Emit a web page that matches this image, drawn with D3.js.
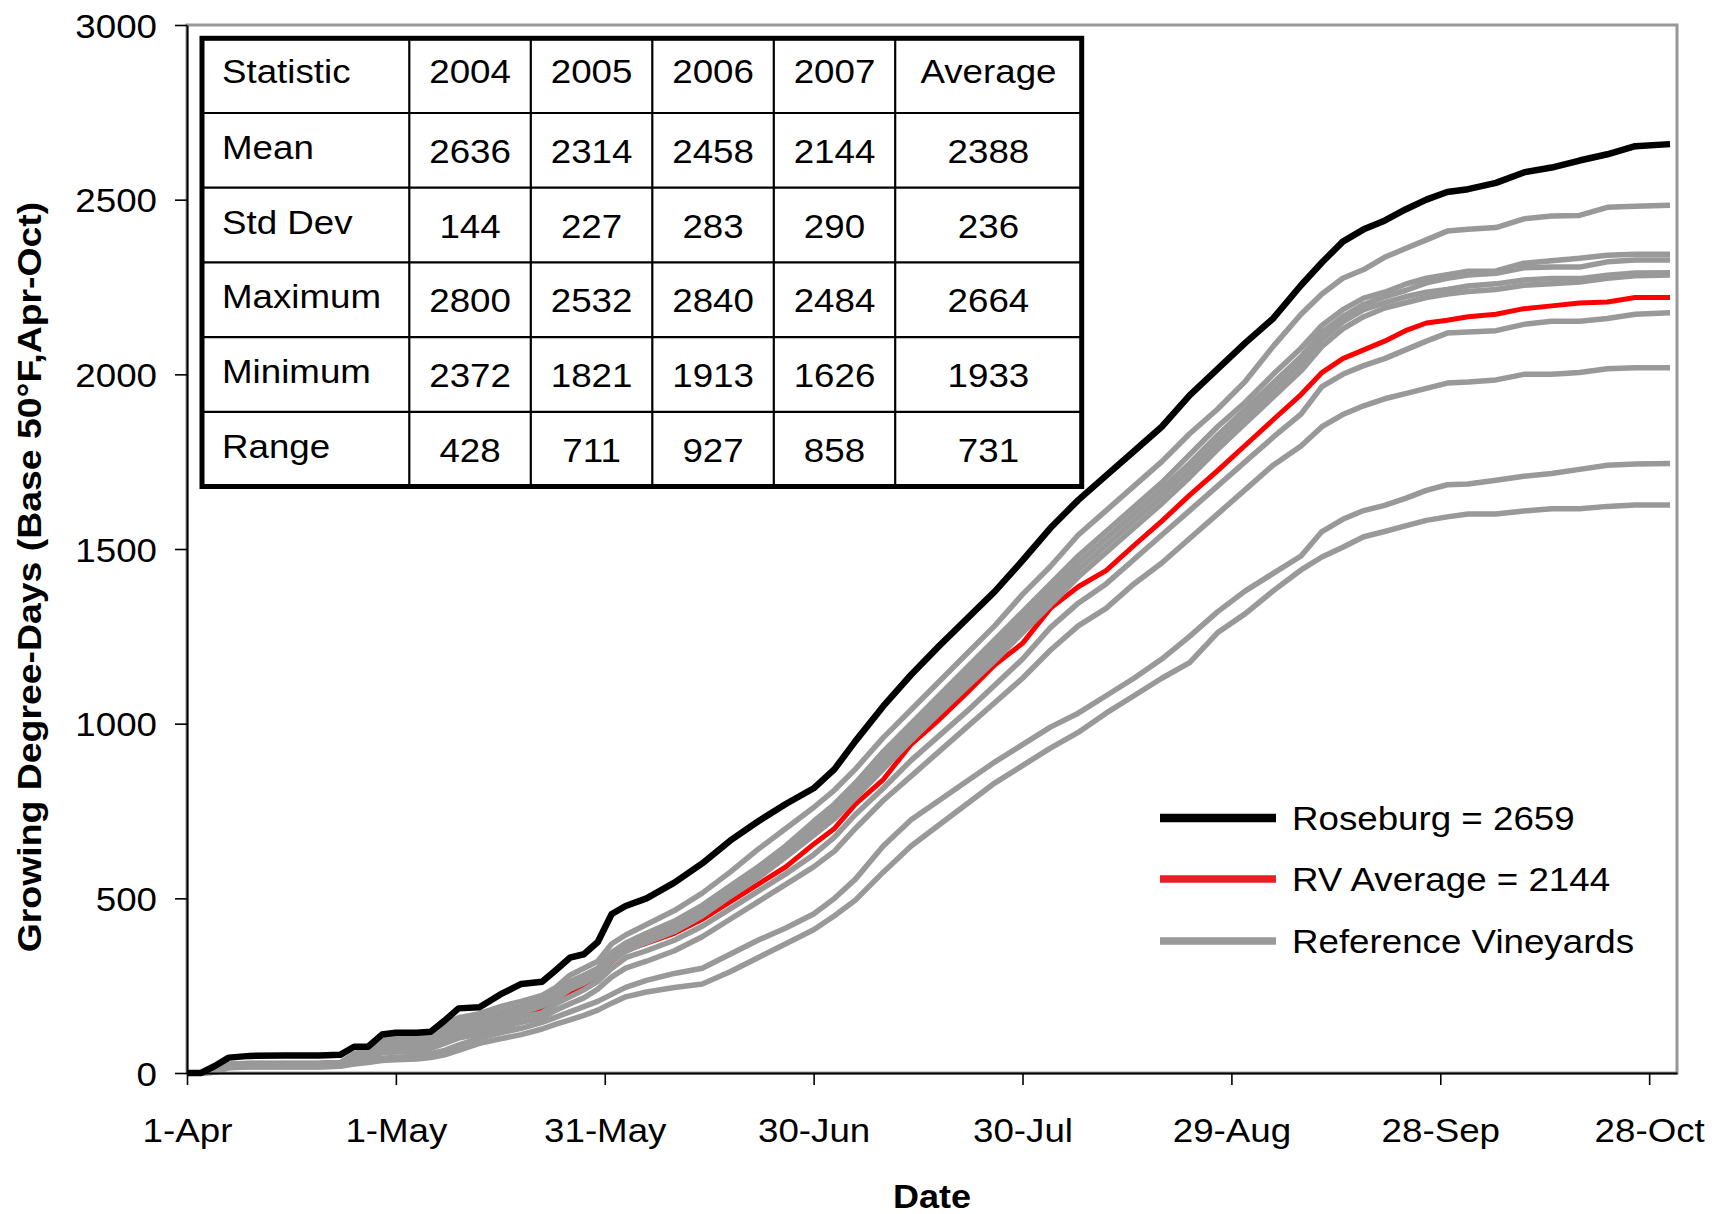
<!DOCTYPE html>
<html>
<head>
<meta charset="utf-8">
<script src="https://cdn.jsdelivr.net/npm/d3@7"></script>
<style>
  html, body { margin: 0; padding: 0; background: #fff; }
  svg { display: block; }
  text { font-family: "Liberation Sans", Arial, Helvetica, sans-serif; fill: #000; }
</style>
</head>
<body>
<svg id="chart" width="1716" height="1214"></svg>
<script>
// ---- Cumulative growing degree-days (base 50°F), 1 April – 31 October ----
// days after 1 April at which every series is sampled
const seasonDay = [0,2,4,6,9,14,19,22,24,26,28,30,33,35,37,39,42,45,48,51,53,55,57,59,61,63,66,70,74,78,82,86,90,93,96,100,104,108,112,116,120,124,128,132,136,140,144,148,152,156,160,163,166,169,172,175,178,181,184,188,192,196,200,204,208,213];

const roseburg = [0,0,20,44,49,50,50,52,75,75,110,115,115,118,150,185,188,225,255,261,295,330,340,375,455,478,500,545,600,665,720,770,815,870,950,1050,1140,1222,1300,1378,1467,1560,1640,1710,1780,1850,1940,2015,2090,2160,2255,2320,2380,2415,2440,2472,2500,2522,2530,2548,2578,2592,2612,2630,2653,2659];

const rvAverage = [0,0,5,20,25,27,28,30,45,55,75,80,82,90,110,120,133,150,168,182,205,230,250,280,320,350,372,400,440,490,540,590,655,700,770,840,941,1011,1088,1168,1230,1330,1392,1438,1510,1580,1654,1724,1797,1870,1942,2005,2045,2070,2095,2125,2147,2155,2165,2172,2188,2196,2204,2207,2220,2220];

// individual reference vineyards
const vineyard1 = [0,0,10,26,28,28,28,30,55,70,100,105,106,110,140,158,170,190,205,222,245,280,300,320,370,395,425,465,515,575,640,700,760,810,870,960,1040,1120,1200,1280,1370,1450,1540,1610,1680,1750,1830,1900,1980,2080,2172,2230,2275,2300,2335,2360,2385,2410,2415,2420,2445,2453,2455,2478,2481,2484];
const vineyard2 = [0,0,8,24,27,27,27,29,50,62,90,95,97,102,125,145,158,175,190,210,232,262,280,300,345,372,400,435,480,535,590,650,720,770,830,920,1000,1080,1160,1240,1320,1400,1480,1550,1620,1690,1770,1850,1920,2000,2075,2140,2185,2218,2235,2258,2275,2285,2295,2296,2318,2325,2332,2341,2344,2344];
const vineyard3 = [0,0,7,23,26,26,26,28,47,58,85,88,90,97,118,135,150,170,185,205,225,255,272,292,338,362,390,425,470,525,580,640,705,755,815,900,985,1065,1140,1220,1300,1380,1460,1530,1600,1670,1745,1825,1900,1975,2050,2120,2165,2200,2222,2240,2262,2275,2284,2289,2305,2307,2307,2322,2327,2327];
const vineyard4 = [0,0,6,22,25,25,25,27,44,55,80,82,85,92,110,128,142,162,178,198,218,248,265,285,330,355,382,415,460,515,568,628,690,740,800,885,968,1048,1122,1200,1280,1360,1440,1510,1580,1650,1725,1805,1880,1955,2030,2100,2150,2185,2205,2222,2235,2243,2253,2259,2270,2274,2274,2284,2290,2291];
const vineyard5 = [0,0,5,21,24,24,24,26,42,52,76,78,80,88,105,122,135,155,172,192,212,240,258,278,322,348,374,405,450,505,558,618,680,728,788,870,952,1030,1105,1180,1260,1340,1420,1490,1560,1630,1705,1785,1860,1935,2010,2080,2130,2165,2190,2205,2220,2230,2237,2243,2255,2259,2264,2275,2282,2284];
const vineyard6 = [0,0,4,20,22,22,22,24,38,48,68,70,72,80,95,110,125,142,160,172,198,218,238,262,300,330,350,380,420,470,520,570,625,675,740,815,895,965,1035,1110,1185,1275,1345,1400,1470,1540,1610,1680,1750,1820,1886,1965,2000,2025,2045,2070,2095,2118,2121,2125,2143,2152,2152,2160,2172,2176];
const vineyard7 = [0,0,3,18,20,20,20,22,34,42,58,60,62,70,85,100,112,128,145,158,180,198,215,240,275,300,320,350,390,440,490,540,590,635,700,780,850,920,990,1060,1130,1210,1280,1330,1400,1460,1530,1600,1670,1740,1795,1850,1885,1910,1930,1945,1960,1975,1978,1984,2000,2000,2005,2016,2019,2019];
const vineyard8 = [0,0,2,16,18,18,18,20,30,35,42,45,48,55,65,80,100,115,128,145,160,175,190,205,225,245,265,285,300,340,380,415,455,500,555,650,725,780,835,890,940,990,1030,1080,1130,1185,1250,1320,1380,1430,1480,1550,1585,1610,1625,1645,1668,1684,1686,1697,1708,1716,1728,1740,1743,1745];
const vineyard9 = [0,0,2,15,17,17,17,19,26,30,36,38,40,44,52,65,85,98,110,126,140,152,165,180,200,218,232,245,255,290,330,370,410,450,495,575,650,710,770,830,880,930,975,1030,1080,1130,1175,1260,1315,1380,1440,1477,1505,1535,1550,1566,1582,1592,1600,1600,1609,1615,1615,1622,1626,1626];
const referenceVineyards = [vineyard1, vineyard2, vineyard3, vineyard4, vineyard5, vineyard6, vineyard7, vineyard8, vineyard9];

// axis ticks
const dateTickDays = [0, 30, 60, 90, 120, 150, 180, 210];
const gddTicks = [0, 500, 1000, 1500, 2000, 2500, 3000];

// summary table
const tableHeader = ["Statistic", "2004", "2005", "2006", "2007", "Average"];
const statNames = ["Mean", "Std Dev", "Maximum", "Minimum", "Range"];
const stats2004 = [2636, 144, 2800, 2372, 428];
const stats2005 = [2314, 227, 2532, 1821, 711];
const stats2006 = [2458, 283, 2840, 1913, 927];
const stats2007 = [2144, 290, 2484, 1626, 858];
const statsAverage = [2388, 236, 2664, 1933, 731];

// ---------------------------------------------------------------------------
const svg = d3.select("#chart");
const W = 1716, H = 1214;
const plot = { left: 187, top: 25, right: 1677, bottom: 1073 };
const SX = 1.08;           // horizontal stretch applied to all lettering
const FONT = 34;

const seasonStart = new Date(Date.UTC(2007, 3, 1));
const seasonEnd = new Date(Date.UTC(2007, 10, 1));
const dayDate = d => d3.utcDay.offset(seasonStart, d);

const x = d3.scaleUtc().domain([seasonStart, seasonEnd]).range([plot.left, plot.right]);
const y = d3.scaleLinear().domain([0, 3000]).range([plot.bottom, plot.top]);

svg.append("rect").attr("width", W).attr("height", H).attr("fill", "#fff");

function putText(parent, px, py, str, opt = {}) {
  const rot = opt.rotate ? ` rotate(${opt.rotate})` : "";
  return parent.append("text")
    .attr("transform", `translate(${px},${py})${rot} scale(${opt.sx || SX},1)`)
    .attr("text-anchor", opt.anchor || "start")
    .style("font-size", (opt.size || FONT) + "px")
    .style("font-weight", opt.weight || "normal")
    .text(str);
}

// plot area frame
svg.append("rect")
  .attr("x", plot.left).attr("y", plot.top)
  .attr("width", plot.right - plot.left).attr("height", plot.bottom - plot.top)
  .attr("fill", "none").attr("stroke", "#979797").attr("stroke-width", 3);

// series
const line = d3.line()
  .x((v, i) => x(dayDate(seasonDay[i])))
  .y(v => y(v))
  .curve(d3.curveLinear);

const series = svg.append("g").attr("fill", "none")
  .attr("stroke-linejoin", "round").attr("stroke-linecap", "butt");

series.append("path").datum(rvAverage)
  .attr("d", line).attr("stroke", "#ff0000").attr("stroke-width", 5);

series.selectAll("path.ref").data(referenceVineyards).join("path")
  .attr("class", "ref").attr("d", line)
  .attr("stroke", "#999999").attr("stroke-width", 5.5);

series.append("path").datum(roseburg)
  .attr("d", line).attr("stroke", "#000").attr("stroke-width", 6.5);

// axes
const yAxis = svg.append("g")
  .attr("transform", `translate(${plot.left},0)`)
  .call(d3.axisLeft(y).tickValues(gddTicks).tickFormat(d3.format("d"))
    .tickSize(12).tickSizeOuter(0).tickPadding(16));
yAxis.selectAll("text")
  .attr("x", -30 / SX).attr("dy", "0.36em")
  .attr("transform", `scale(${SX},1)`)
  .style("font-size", FONT + "px");

const xAxis = svg.append("g")
  .attr("transform", `translate(0,${plot.bottom})`)
  .call(d3.axisBottom(x).tickValues(dateTickDays.map(dayDate))
    .tickFormat(d3.utcFormat("%-d-%b")).tickSize(12).tickSizeOuter(0).tickPadding(33));
xAxis.selectAll("text")
  .attr("transform", `scale(${SX},1)`)
  .style("font-size", FONT + "px");

[yAxis, xAxis].forEach(g => {
  g.select(".domain").attr("stroke", "#000").attr("stroke-width", 2);
  g.selectAll(".tick line").attr("stroke", "#000").attr("stroke-width", 1.6);
  g.selectAll("text").attr("fill", "#000").style("font-family", "'Liberation Sans', Arial, sans-serif");
});

// axis titles
putText(svg, 41, 577, "Growing Degree-Days (Base 50°F,Apr-Oct)",
  { anchor: "middle", weight: "bold", rotate: -90, sx: 1.1 });
putText(svg, (plot.left + plot.right) / 2, 1208, "Date", { anchor: "middle", weight: "bold", sx: 1.06 });

// summary table
const colEdges = [202, 409.3, 530.8, 652.3, 773.8, 895.2, 1081.7];
const rowTop = 38.3, rowH = 74.7;
const nRows = statNames.length + 1;
const table = svg.append("g");
table.append("rect")
  .attr("x", colEdges[0]).attr("y", rowTop)
  .attr("width", colEdges[colEdges.length - 1] - colEdges[0]).attr("height", rowH * nRows)
  .attr("fill", "#fff");
table.selectAll("line.col").data(colEdges.slice(1, -1)).join("line")
  .attr("x1", d => d).attr("x2", d => d)
  .attr("y1", rowTop).attr("y2", rowTop + rowH * nRows)
  .attr("stroke", "#000").attr("stroke-width", 2.2);
table.selectAll("line.row").data(d3.range(1, nRows)).join("line")
  .attr("x1", colEdges[0]).attr("x2", colEdges[colEdges.length - 1])
  .attr("y1", r => rowTop + r * rowH).attr("y2", r => rowTop + r * rowH)
  .attr("stroke", "#000").attr("stroke-width", 2.2);
table.append("rect")
  .attr("x", colEdges[0]).attr("y", rowTop)
  .attr("width", colEdges[colEdges.length - 1] - colEdges[0]).attr("height", rowH * nRows)
  .attr("fill", "none").attr("stroke", "#000").attr("stroke-width", 5);

const colCenter = c => (colEdges[c] + colEdges[c + 1]) / 2;
tableHeader.forEach((h, c) => {
  if (c === 0) putText(table, 222, rowTop + 45, h);
  else putText(table, colCenter(c), rowTop + 45, h, { anchor: "middle" });
});
const statColumns = [stats2004, stats2005, stats2006, stats2007, statsAverage];
statNames.forEach((name, r) => {
  const top = rowTop + (r + 1) * rowH;
  putText(table, 222, top + 46, name);
  statColumns.forEach((col, c) => {
    putText(table, colCenter(c + 1), top + 50, String(col[r]), { anchor: "middle" });
  });
});

// legend
const finalTotals = referenceVineyards.map(v => v[v.length - 1]);
const legendItems = [
  { label: `Roseburg = ${d3.format(".0f")(roseburg[roseburg.length - 1])}`, color: "#000000", width: 8.5 },
  { label: `RV Average = ${d3.format(".0f")(d3.mean(finalTotals))}`, color: "#ee1c24", width: 7.5 },
  { label: "Reference Vineyards", color: "#999999", width: 7.5 }
];
const legendYs = [818, 879, 941];
const legend = svg.append("g");
legendItems.forEach((item, i) => {
  legend.append("line")
    .attr("x1", 1160).attr("x2", 1276)
    .attr("y1", legendYs[i]).attr("y2", legendYs[i])
    .attr("stroke", item.color).attr("stroke-width", item.width);
  putText(legend, 1292, legendYs[i] + 12, item.label);
});
</script>
</body>
</html>
